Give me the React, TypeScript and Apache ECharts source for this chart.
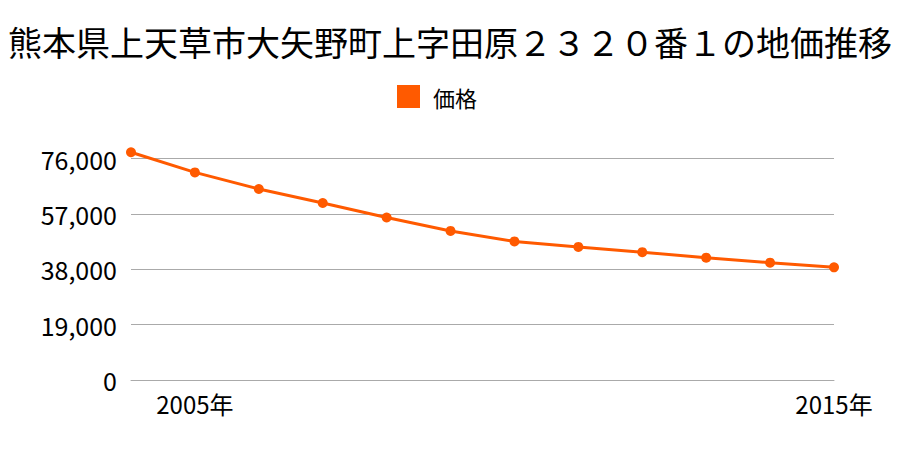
import React, { useEffect, useRef } from "react";
import * as echarts from "echarts";

const titleText = "熊本県上天草市大矢野町上字田原２３２０番１の地価推移";
const seriesName = "価格";
const years = ["2004年", "2005年", "2006年", "2007年", "2008年", "2009年", "2010年", "2011年", "2012年", "2013年", "2014年", "2015年"];
const prices = [78200, 71300, 65600, 60800, 55800, 51200, 47600, 45700, 43900, 42000, 40300, 38700];
const shownLabelIndexes = [1, 11];

const FONT = "'Noto Sans CJK JP', 'Noto Sans', sans-serif";

export default function App() {
  const ref = useRef<HTMLDivElement>(null);
  useEffect(() => {
    if (!ref.current) return;
    const chart = echarts.init(ref.current, null, { renderer: "svg" });
    chart.setOption({
      animation: false,
      title: {
        text: titleText,
        left: "center",
        top: 19,
        textStyle: { fontFamily: FONT, fontSize: 34, fontWeight: "normal", color: "#000" },
      },
      legend: {
        data: [seriesName],
        top: 80,
        left: 392,
        icon: "rect",
        itemWidth: 23,
        itemHeight: 23,
        itemGap: 10,
        textStyle: { fontFamily: FONT, fontSize: 22, color: "#000", padding: [0, 0, 0, 8] },
      },
      grid: { left: 131, right: 66, top: 158.7, bottom: 70, containLabel: false },
      xAxis: {
        type: "category",
        data: years,
        boundaryGap: false,
        axisLine: { show: true, lineStyle: { color: "#aaaaaa", width: 1 } },
        axisTick: { show: false },
        splitLine: { show: false },
        axisLabel: {
          interval: (index: number) => shownLabelIndexes.includes(index),
          fontFamily: FONT,
          fontSize: 24,
          color: "#000",
          margin: 11,
        },
      },
      yAxis: {
        type: "value",
        min: 0,
        max: 76000,
        interval: 19000,
        axisLine: { show: false },
        axisTick: { show: false },
        splitLine: { show: true, lineStyle: { color: "#aaaaaa", width: 1 } },
        axisLabel: {
          fontFamily: FONT,
          fontSize: 25,
          color: "#000",
          margin: 14,
          formatter: (v: number) => v.toLocaleString("en-US"),
        },
      },
      series: [
        {
          name: seriesName,
          type: "line",
          data: prices,
          clip: false,
          symbol: "circle",
          symbolSize: 10,
          itemStyle: { color: "#ff5a00" },
          lineStyle: { color: "#ff5a00", width: 3 },
        },
      ],
    });
    return () => chart.dispose();
  }, []);
  return <div ref={ref} style={{ width: 900, height: 450, position: "absolute", left: 0, top: 0 }} />;
}
